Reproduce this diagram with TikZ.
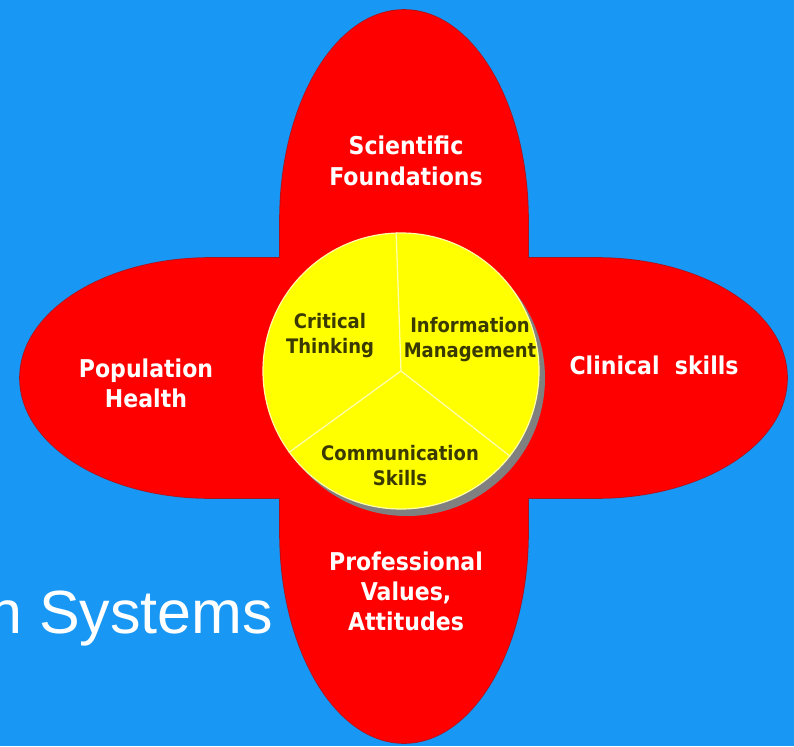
\documentclass[tikz,border=0pt]{standalone}
\usepackage{fontspec}
\setmainfont{DejaVu Sans}
\newfontfamily\pfont[FakeStretch=0.9]{DejaVu Sans}
\newfontfamily\afont{Liberation Sans}
\definecolor{bgblue}{RGB}{24,152,244}
\definecolor{petalred}{RGB}{255,0,0}
\definecolor{petaledgecol}{RGB}{170,20,30}
\definecolor{hubyellow}{RGB}{255,255,0}
\definecolor{hubtext}{RGB}{58,58,0}
\definecolor{hubline}{RGB}{255,255,170}
\definecolor{shadowgray}{RGB}{128,128,128}
\tikzset{
  petaltext/.style={anchor=base, align=center, inner sep=0pt, text=white,
    font=\pfont\bfseries\fontsize{24.5}{30}\selectfont},
  hubtext/.style={anchor=base, align=center, inner sep=0pt, text=hubtext,
    font=\pfont\bfseries\fontsize{20}{25}\selectfont},
  divider/.style={draw=hubline, line width=1.3pt},
  petaledge/.style={draw=petaledgecol, line width=1.6pt},
  petalfill/.style={fill=petalred}
}
\begin{document}
\begin{tikzpicture}[x=1pt,y=-1pt]
\useasboundingbox (0,0) rectangle (794,746);
\fill[bgblue] (0,0) rectangle (794,746);

% partly hidden title text
\node[anchor=base west, inner sep=0pt, text=white,
      font=\afont\fontsize{61}{70}\selectfont] (sys) at (-12,633) {n Systems};

% petals: outline first, then fill over it
\path[petaledge] (210,378) ellipse [x radius=190, y radius=120];
\path[petaledge] (597,378) ellipse [x radius=190, y radius=120];
\path[petaledge] (210,258) rectangle (597,498);
\path[petaledge] (404,220) ellipse [x radius=124, y radius=210];
\path[petaledge] (404,533) ellipse [x radius=124, y radius=210];
\path[petaledge] (280,220) rectangle (528,533);
\path[petalfill] (210,378) ellipse [x radius=190, y radius=120];
\path[petalfill] (597,378) ellipse [x radius=190, y radius=120];
\path[petalfill] (210,258) rectangle (597,498);
\path[petalfill] (404,220) ellipse [x radius=124, y radius=210];
\path[petalfill] (404,533) ellipse [x radius=124, y radius=210];
\path[petalfill] (280,220) rectangle (528,533);

% central circle with shadow
\node[circle, minimum size=276pt, inner sep=0pt, fill=shadowgray] (shadow) at (407,378) {};
\node[circle, minimum size=276pt, inner sep=0pt, fill=hubyellow, draw=hubline, line width=1.2pt] (hub) at (401,371) {};
\coordinate (c) at (401,371);
\draw[divider] (c) -- (hub.92);
\draw[divider] (c) -- (hub.216);
\draw[divider] (c) -- (hub.322);

% petal labels (anchor = baseline of last line)
\node[petaltext] (sci) at (406,185) {Scientific\\Foundations};
\node[petaltext] (pop) at (146,407) {Population\\Health};
\node[petaltext] (cli) at (654,374) {Clinical\ \ skills};
\node[petaltext] (pro) at (406,630) {Professional\\Values,\\Attitudes};

% hub labels
\node[hubtext] (crit) at (330,353) {Critical\\Thinking};
\node[hubtext] (info) at (470,357) {Information\\Management};
\node[hubtext] (comm) at (400,485) {Communication\\Skills};
\end{tikzpicture}
\end{document}
